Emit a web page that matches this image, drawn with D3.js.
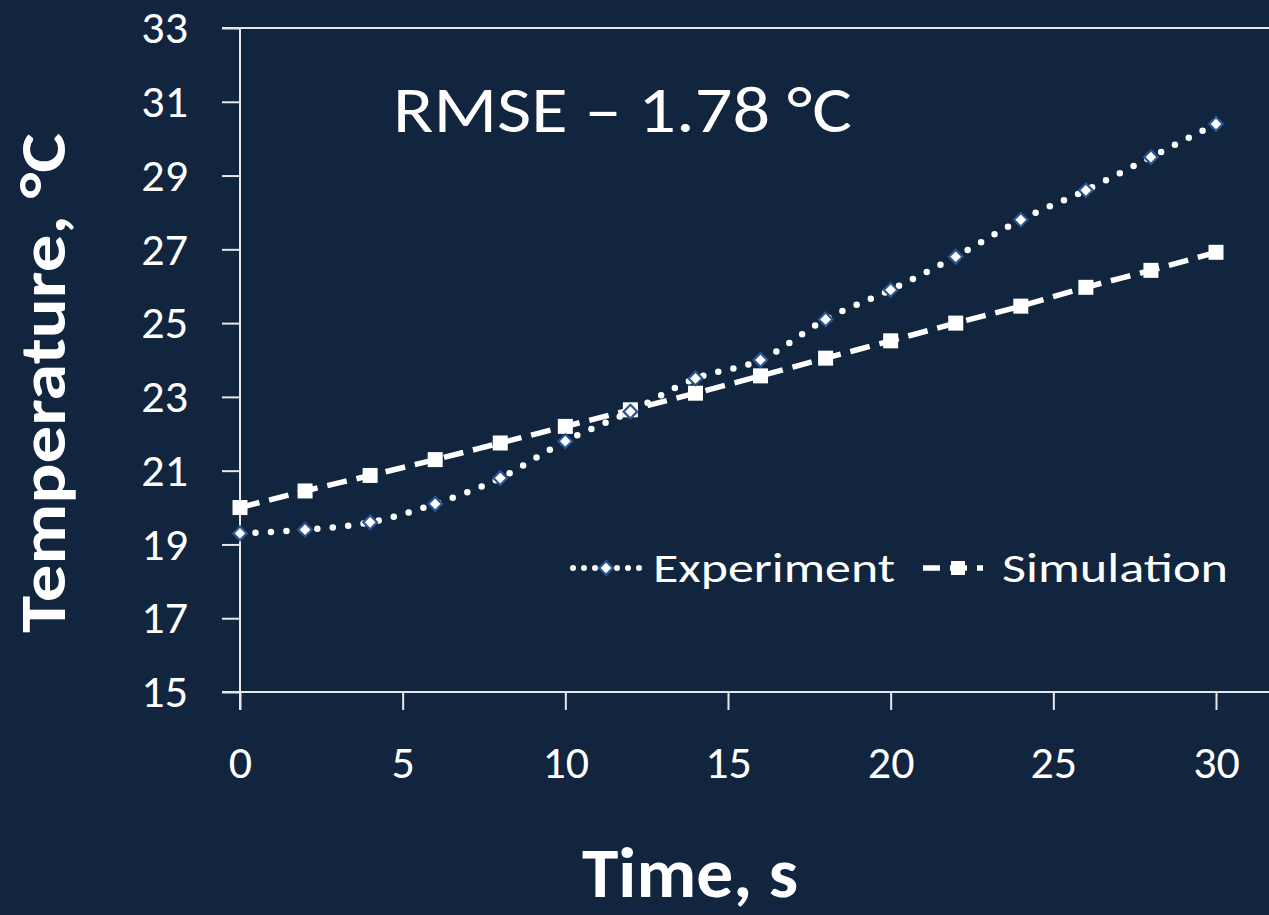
<!DOCTYPE html>
<html>
<head>
<meta charset="utf-8">
<script src="https://cdn.jsdelivr.net/npm/d3@7/dist/d3.min.js"></script>
<style>
html,body{margin:0;padding:0;background:#11253f;}
svg{display:block;}
text{font-family:Carlito, Calibri, Lato, sans-serif;fill:#fff;}
</style>
</head>
<body>
<svg id="chart" width="1269" height="915"></svg>
<script>
const times = [0,2,4,6,8,10,12,14,16,18,20,22,24,26,28,30];
const experiment = [19.3,19.4,19.6,20.1,20.8,21.8,22.6,23.5,24.0,25.1,25.9,26.8,27.8,28.6,29.5,30.4];
const simulation = [20.0,20.45,20.87,21.3,21.75,22.2,22.65,23.1,23.57,24.05,24.52,25.0,25.46,25.97,26.43,26.92];
const xTicks = [0,5,10,15,20,25,30];
const yTicks = [15,17,19,21,23,25,27,29,31,33];
const seriesNames = ["Experiment","Simulation"];

(function(){
const svg = d3.select("#chart");
const W = 1269;
const pL = 240, pR = 1216, pT = 28, pB = 692;
const x = d3.scaleLinear().domain([0,30]).range([pL,pR]);
const y = d3.scaleLinear().domain([15,33]).range([pB,pT]);
const axisColor = "#e8e8e8";
const FF = "Carlito, Calibri, Lato, sans-serif";

// top border line
svg.append("line").attr("x1",pL-18).attr("x2",W).attr("y1",y(33)).attr("y2",y(33))
  .attr("stroke",axisColor).attr("stroke-width",2);

// y axis
const gy = svg.append("g").attr("transform",`translate(${pL},0)`)
  .call(d3.axisLeft(y).tickValues(yTicks).tickSize(18).tickPadding(34).tickFormat(d3.format("d")));
gy.select(".domain").remove();
gy.selectAll(".tick line").attr("stroke",axisColor).attr("stroke-width",2);
gy.selectAll(".tick text").attr("font-size",46).attr("fill","#fff").style("font-family",FF);
svg.append("line").attr("x1",pL).attr("x2",pL).attr("y1",pT).attr("y2",pB+18)
  .attr("stroke",axisColor).attr("stroke-width",2);

// x axis
const gx = svg.append("g").attr("transform",`translate(0,${pB})`)
  .call(d3.axisBottom(x).tickValues(xTicks).tickSize(18).tickPadding(35).tickFormat(d3.format("d")));
gx.select(".domain").remove();
gx.selectAll(".tick line").attr("stroke",axisColor).attr("stroke-width",2);
gx.selectAll(".tick text").attr("font-size",46).attr("fill","#fff").style("font-family",FF);
svg.append("line").attr("x1",pL-18).attr("x2",W).attr("y1",pB).attr("y2",pB)
  .attr("stroke",axisColor).attr("stroke-width",2);

// lines
const line = d3.line().x(d=>x(d[0])).y(d=>y(d[1])).curve(d3.curveMonotoneX);
const expData = times.map((t,i)=>[t,experiment[i]]);
const simData = times.map((t,i)=>[t,simulation[i]]);

svg.append("path").datum(simData).attr("d",line).attr("fill","none")
  .attr("stroke","#fff").attr("stroke-width",5.5).attr("stroke-dasharray","20,10");
svg.append("path").datum(expData).attr("d",line).attr("fill","none")
  .attr("stroke","#fff").attr("stroke-width",6.5).attr("stroke-linecap","round").attr("stroke-dasharray","0,15.5");

// markers
svg.selectAll(".sq").data(simData).enter().append("rect")
  .attr("x",d=>x(d[0])-7.5).attr("y",d=>y(d[1])-7.5).attr("width",15).attr("height",15)
  .attr("fill","#fff");
const diamond = d3.symbol().type(d3.symbolDiamond2).size(120);
svg.selectAll(".dm").data(expData).enter().append("path")
  .attr("transform",d=>`translate(${x(d[0])},${y(d[1])})`)
  .attr("d",diamond).attr("fill","#fff").attr("stroke","#2a5590").attr("stroke-width",2.2);

// annotation
svg.append("text").attr("x",393).attr("y",132).attr("font-size",65)
  .attr("textLength",459).attr("lengthAdjust","spacingAndGlyphs")
  .text("RMSE \u2013 1.78 \u00b0C");

// legend
const ly = 568;
const lg = svg.append("g");
lg.append("line").attr("x1",573).attr("x2",640).attr("y1",ly).attr("y2",ly)
  .attr("stroke","#fff").attr("stroke-width",6).attr("stroke-linecap","round").attr("stroke-dasharray","0,11");
lg.append("path").attr("transform",`translate(606,${ly})`).attr("d",diamond)
  .attr("fill","#fff").attr("stroke","#2a5590").attr("stroke-width",2.2);
lg.append("text").attr("x",653).attr("y",582).attr("font-size",42)
  .attr("textLength",242).attr("lengthAdjust","spacingAndGlyphs").text(seriesNames[0]);
lg.append("line").attr("x1",923).attr("x2",983).attr("y1",ly).attr("y2",ly)
  .attr("stroke","#fff").attr("stroke-width",5.5).attr("stroke-dasharray","17,10");
lg.append("rect").attr("x",951).attr("y",ly-7).attr("width",14).attr("height",14).attr("fill","#fff");
lg.append("text").attr("x",1002).attr("y",582).attr("font-size",42)
  .attr("textLength",226).attr("lengthAdjust","spacingAndGlyphs").text(seriesNames[1]);

// axis titles
svg.append("text").attr("transform",`translate(65,633) rotate(-90)`)
  .attr("font-size",65).attr("font-weight","bold")
  .attr("textLength",500).attr("lengthAdjust","spacingAndGlyphs").text("Temperature, \u00b0C");
svg.append("text").attr("x",582).attr("y",897)
  .attr("font-size",70).attr("font-weight","bold")
  .attr("textLength",216).attr("lengthAdjust","spacingAndGlyphs").text("Time, s");
})();
</script>
</body>
</html>
